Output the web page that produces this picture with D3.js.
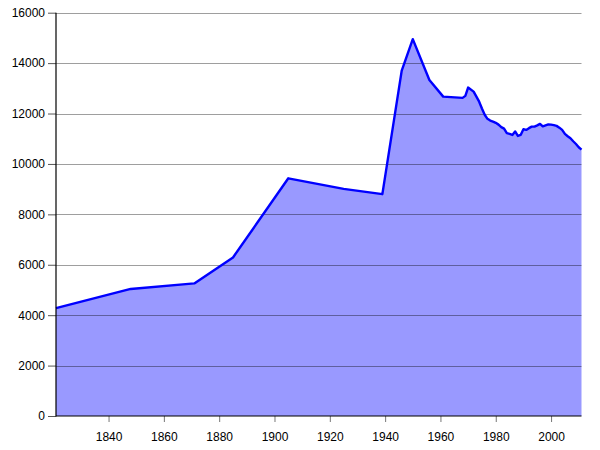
<!DOCTYPE html>
<html><head><meta charset="utf-8">
<script src="https://cdn.jsdelivr.net/npm/d3@7"></script>
<style>body{margin:0;background:#fff}svg{display:block}</style>
</head><body>
<svg id="c" width="600" height="450"></svg>
<script>
const years = [1821,1848,1871,1885,1905,1925,1939,1946,1950,1956,1961,1968,1969,1970,1972,1974,1975,1976,1977,1978,1979,1980,1981,1982,1983,1984,1985,1986,1987,1988,1989,1990,1991,1992,1993,1994,1995,1996,1997,1998,1999,2000,2001,2002,2003,2004,2005,2006,2007,2008,2009,2010,2011];
const population = [4280,5040,5260,6290,9430,9010,8800,13700,14950,13330,12670,12620,12700,13030,12870,12470,12200,11950,11790,11720,11680,11630,11560,11460,11400,11220,11190,11150,11290,11110,11150,11380,11350,11420,11480,11480,11530,11590,11490,11530,11570,11560,11540,11510,11440,11350,11190,11100,11020,10900,10790,10660,10570];
const xTicks = [1840,1860,1880,1900,1920,1940,1960,1980,2000];
const yTicks = [0,2000,4000,6000,8000,10000,12000,14000,16000];

const data = years.map((y,i)=>({year:y, value:population[i]}));
const svg = d3.select("#c");
const L=56, R=581.5, T=12.7, B=416;
const x = d3.scaleLinear().domain([1821,2011]).range([L,R]);
const y = d3.scaleLinear().domain([0,16000]).range([B,T]);

svg.append("path").datum(data)
  .attr("fill","#9999ff")
  .attr("d", d3.area().x(d=>x(d.year)).y0(y(0)).y1(d=>y(d.value)));

svg.append("g").selectAll("line").data(yTicks.filter(v=>v>0)).join("line")
  .attr("x1",L).attr("x2",R)
  .attr("y1",d=>Math.round(y(d))+0.5).attr("y2",d=>Math.round(y(d))+0.5)
  .attr("stroke","#000").attr("stroke-opacity",0.38).attr("stroke-width",1);

svg.append("path").datum(data)
  .attr("fill","none").attr("stroke","#0000ff").attr("stroke-width",2.4)
  .attr("stroke-linejoin","round")
  .attr("d", d3.line().x(d=>x(d.year)).y(d=>y(d.value)));

const yAxis = svg.append("g").attr("transform",`translate(${L},0)`)
  .call(d3.axisLeft(y).tickValues(yTicks).tickSize(8).tickPadding(3).tickFormat(d3.format("d")));
yAxis.select(".domain").remove();
yAxis.selectAll(".tick line").attr("stroke","#555");
yAxis.selectAll("text").attr("font-family","Liberation Sans, Arial, sans-serif").attr("font-size",12).attr("fill","#000");

const xAxis = svg.append("g").attr("transform",`translate(0,${B})`)
  .call(d3.axisBottom(x).tickValues(xTicks).tickSize(6).tickPadding(10).tickFormat(d3.format("d")));
xAxis.select(".domain").remove();
xAxis.selectAll(".tick line").attr("stroke","#777");
xAxis.selectAll("text").attr("font-family","Liberation Sans, Arial, sans-serif").attr("font-size",12).attr("fill","#000");

svg.append("line").attr("x1",L).attr("x2",L).attr("y1",T).attr("y2",B+0.5).attr("stroke","#000").attr("stroke-width",1.2);
svg.append("line").attr("x1",L).attr("x2",R).attr("y1",B).attr("y2",B).attr("stroke","#000").attr("stroke-width",1.2);
</script>
</body></html>
